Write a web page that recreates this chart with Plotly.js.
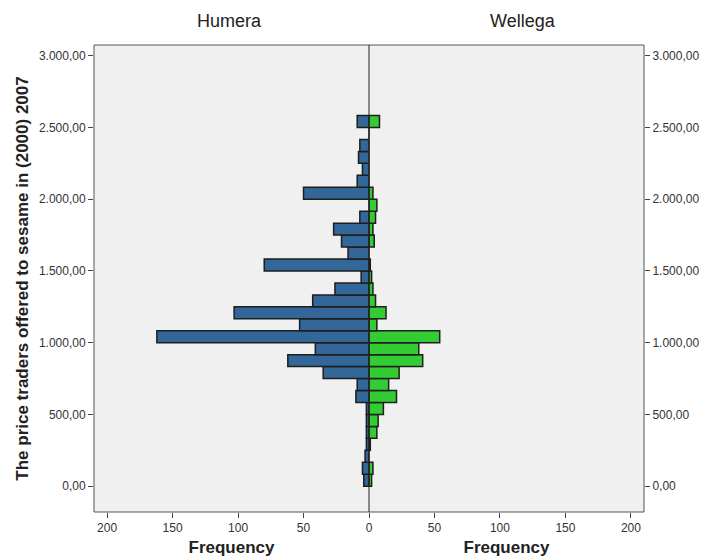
<!DOCTYPE html>
<html>
<head>
<meta charset="utf-8">
<script src="https://cdn.plot.ly/plotly-3.0.1.min.js"></script>
<style>html,body{margin:0;padding:0;background:#fff;}#chart{width:706px;height:560px;}</style>
</head>
<body>
<div id="chart"></div>
<script>
// Price bins (centres, bin width 83.33) and frequencies
var binCenters = [41.67, 125, 208.33, 291.67, 375, 458.33, 541.67, 625, 708.33, 791.67,
  875, 958.33, 1041.67, 1125, 1208.33, 1291.67, 1375, 1458.33, 1541.67, 1625,
  1708.33, 1791.67, 1875, 1958.33, 2041.67, 2125, 2208.33, 2291.67, 2375, 2458.33, 2541.67];
var binWidth = 83.33;
var humera  = [4, 5, 3, 2, 2, 2, 2, 10, 9, 35, 62, 41, 162, 53, 103, 43, 26, 6, 80, 16, 21, 27, 7, 0, 50, 9, 5, 8, 7, 0, 9];
var wellega = [2, 3, 0, 1, 6, 7, 11, 21, 15, 23, 41, 38, 54, 6, 13, 5, 3, 2, 1, 0, 4, 3, 5, 6, 3, 0, 0, 0, 0, 0, 8];
var panelNames = ['Humera', 'Wellega'];
var yTickVals = [0, 500, 1000, 1500, 2000, 2500, 3000];
var yTickText = ['0,00', '500,00', '1.000,00', '1.500,00', '2.000,00', '2.500,00', '3.000,00'];
var xTickLeft = [0, 50, 100, 150, 200];
var xTickRight = [50, 100, 150, 200];

var widths = binCenters.map(function(){ return binWidth; });

var traces = [
  {type:'bar', orientation:'h', x:humera, y:binCenters, width:widths, xaxis:'x', yaxis:'y',
   marker:{color:'#336699', line:{color:'#1e1e1e', width:1.5}}, name:panelNames[0], hoverinfo:'x+y'},
  {type:'bar', orientation:'h', x:wellega, y:binCenters, width:widths, xaxis:'x2', yaxis:'y2',
   marker:{color:'#33cc33', line:{color:'#1e1e1e', width:1.5}}, name:panelNames[1], hoverinfo:'x+y'}
];

var FAM = 'Liberation Sans, Arial, sans-serif';
var tickFont = {family:FAM, size:12, color:'#333'};
var titleFont = {family:FAM, size:17, color:'#222', weight:'bold'};
var yRange = [-180, 3075];

var layout = {
  width:706, height:560,
  margin:{l:94, r:62, t:45, b:48},
  paper_bgcolor:'#ffffff', plot_bgcolor:'#f0f0f0',
  showlegend:false, bargap:0,
  font:{family:FAM},
  xaxis:{domain:[0,0.5], range:[210,0], anchor:'y', tickvals:xTickLeft, ticks:'outside', ticklen:5,
    tickcolor:'#444', tickfont:tickFont, showgrid:false, zeroline:false, showline:false,
    title:{text:'Frequency', font:titleFont, standoff:6}},
  xaxis2:{domain:[0.5,1], range:[0,210], anchor:'y2', tickvals:xTickRight, ticks:'outside', ticklen:5,
    tickcolor:'#444', tickfont:tickFont, showgrid:false, zeroline:false, showline:false,
    title:{text:'Frequency', font:titleFont, standoff:6}},
  yaxis:{domain:[0,1], range:yRange, anchor:'x', side:'left', tickvals:yTickVals, ticktext:yTickText,
    ticks:'outside', ticklen:5, tickcolor:'#444', tickfont:tickFont, showgrid:false, zeroline:false, showline:false,
    title:{text:'The price traders offered to sesame in (2000) 2007', font:titleFont, standoff:5}},
  yaxis2:{domain:[0,1], range:yRange, anchor:'x2', side:'right', tickvals:yTickVals, ticktext:yTickText,
    ticks:'outside', ticklen:5, tickcolor:'#444', tickfont:tickFont, showgrid:false, zeroline:false, showline:false},
  annotations:[
    {text:panelNames[0], xref:'paper', yref:'paper', x:0.247, xanchor:'center', y:1, yanchor:'bottom', yshift:12, showarrow:false,
     font:{family:FAM, size:18, color:'#222'}},
    {text:panelNames[1], xref:'paper', yref:'paper', x:0.78, xanchor:'center', y:1, yanchor:'bottom', yshift:12, showarrow:false,
     font:{family:FAM, size:18, color:'#222'}}
  ],
  shapes:[
    {type:'rect', xref:'paper', yref:'paper', x0:0, x1:1, y0:0, y1:1, line:{color:'#555', width:1}, layer:'above'},
    {type:'line', xref:'paper', yref:'paper', x0:0.5, x1:0.5, y0:0, y1:1, line:{color:'#222', width:1}, layer:'above'}
  ]
};

Plotly.newPlot('chart', traces, layout, {displayModeBar:false, staticPlot:true});
</script>
</body>
</html>
